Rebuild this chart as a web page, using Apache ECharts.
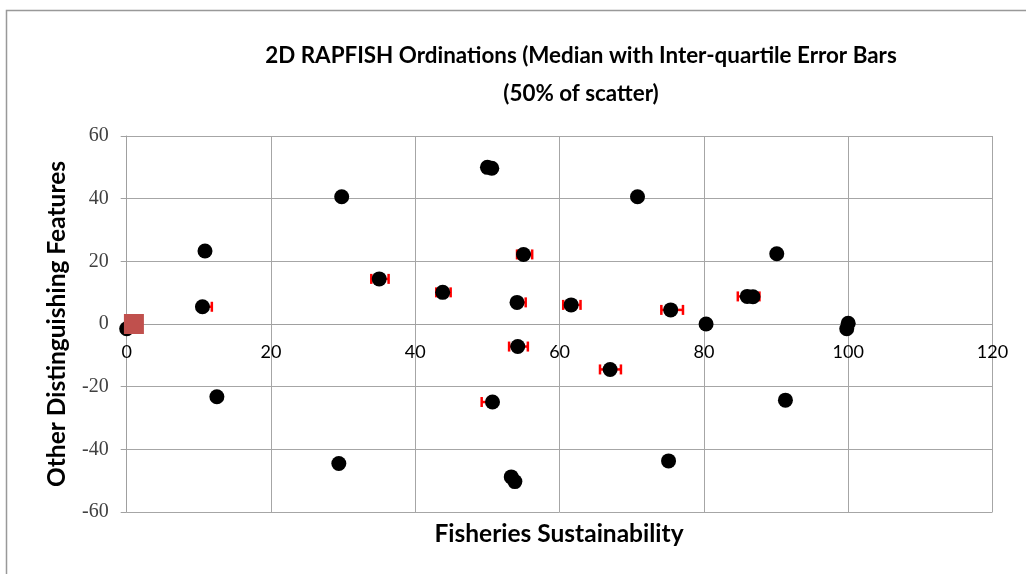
<!DOCTYPE html>
<html><head><meta charset="utf-8">
<script src="https://cdn.jsdelivr.net/npm/echarts@6/dist/echarts.min.js"></script>
<style>html,body{margin:0;padding:0;background:#fff}#c{width:1026px;height:574px}</style>
</head><body><div id="c"></div>
<script>
// Median ordination positions (x: Fisheries Sustainability, y: Other Distinguishing Features)
const ptsX = [0, 10.5, 10.85, 12.5, 29.4, 29.8, 35.0, 43.8, 50.0, 50.6, 50.7, 53.3, 53.8, 54.1, 54.2, 55.0, 61.6, 67.0, 70.8, 75.1, 75.4, 80.3, 86.0, 86.8, 90.1, 91.3, 99.8, 100];
const ptsY = [-1.5, 5.5, 23.3, -23.2, -44.5, 40.6, 14.4, 10.1, 50.0, 49.7, -24.9, -48.8, -50.3, 6.9, -7.2, 22.2, 6.1, -14.5, 40.6, -43.7, 4.5, 0.0, 8.8, 8.7, 22.4, -24.3, -1.5, 0.2];
// Inter-quartile range on the x axis (null = no visible bar)
const errLo = [null, 10.2, null, null, null, null, 33.9, 42.9, null, null, 49.2, null, null, 53.6, 53.0, 54.1, 60.5, 65.6, null, null, 74.1, 79.9, 84.7, null, null, null, null, null];
const errHi = [null, 11.8, null, null, null, null, 36.3, 44.9, null, null, 51.0, null, null, 55.3, 55.6, 56.2, 62.9, 68.5, null, null, 77.1, 80.7, 87.7, null, null, null, null, null];
// Reference point
const refX = [1.0];
const refY = [0];
const xTicks = [0, 20, 40, 60, 80, 100, 120];
const yTicks = [-60, -40, -20, 0, 20, 40, 60];

const points = ptsX.map((x, i) => [x, ptsY[i]]);
const errData = [];
ptsX.forEach((x, i) => { if (errLo[i] != null) errData.push([x, ptsY[i], errLo[i], errHi[i]]); });
const refData = refX.map((x, i) => [x, refY[i]]);

const gridTop = 136, gridBottom = 62, H = 574;
const plotH = H - gridTop - gridBottom;
const yMin = yTicks[0], yMax = yTicks[yTicks.length - 1];
// move the x axis up so that it crosses the y axis at zero (as in the original)
const xAxisOffset = -plotH * (0 - yMin) / (yMax - yMin);

const chart = echarts.init(document.getElementById('c'));
chart.setOption({
  animation: false,
  backgroundColor: '#fff',
  title: {
    text: '2D RAPFISH Ordinations (Median with Inter-quartile Error Bars\n(50% of scatter)',
    left: 576, top: 32, textAlign: 'center',
    textStyle: { fontFamily: 'Lato', fontWeight: 'bold', fontSize: 22.4, color: '#000', lineHeight: 38 }
  },
  graphic: [
    { type: 'rect', shape: { x: 6.5, y: 10.5, width: 1100, height: 700 }, style: { fill: 'none', stroke: '#999', lineWidth: 1.5 }, z: -1 },
    { type: 'text', x: 559, y: 534, style: { text: 'Fisheries Sustainability', fontFamily: 'Lato', fontWeight: 'bold', fontSize: 24.5, fill: '#000', textAlign: 'center', textVerticalAlign: 'middle' } }
  ],
  grid: { left: 126.7, right: 33.5, top: gridTop, bottom: gridBottom },
  xAxis: {
    type: 'value', min: xTicks[0], max: xTicks[xTicks.length - 1], interval: 20,
    position: 'bottom', offset: xAxisOffset,
    axisLine: { onZero: false, lineStyle: { color: '#a0a0a0', width: 1 } },
    axisTick: { show: false },
    axisLabel: { fontFamily: 'Lato', fontSize: 18, color: '#000', margin: 19 },
    splitLine: { show: true, lineStyle: { color: '#a6a6a6', width: 1 } }
  },
  yAxis: {
    type: 'value', min: yMin, max: yMax, interval: 20,
    name: 'Other Distinguishing Features', nameLocation: 'middle', nameGap: 57, nameRotate: 90,
    nameTextStyle: { fontFamily: 'Lato', fontWeight: 'bold', fontSize: 24.5, color: '#000' },
    axisLine: { show: true, onZero: false, lineStyle: { color: '#a0a0a0', width: 1 } },
    axisTick: { show: true, inside: false, length: 6, lineStyle: { color: '#a0a0a0' } },
    axisLabel: { fontFamily: 'Liberation Serif', fontSize: 20, color: '#404040', margin: 18 },
    splitLine: { show: true, lineStyle: { color: '#a6a6a6', width: 1 } }
  },
  series: [
    {
      type: 'custom', z: 2, data: errData,
      renderItem: function (params, api) {
        const y = api.value(1);
        const lo = api.coord([api.value(2), y]);
        const hi = api.coord([api.value(3), y]);
        const h = 5;
        const st = { stroke: '#ff0000', lineWidth: 2.5 };
        return { type: 'group', children: [
          { type: 'line', shape: { x1: lo[0], y1: lo[1], x2: hi[0], y2: hi[1] }, style: st },
          { type: 'line', shape: { x1: lo[0], y1: lo[1] - h, x2: lo[0], y2: lo[1] + h }, style: st },
          { type: 'line', shape: { x1: hi[0], y1: hi[1] - h, x2: hi[0], y2: hi[1] + h }, style: st }
        ] };
      }
    },
    { type: 'scatter', z: 3, data: points, symbol: 'circle', symbolSize: 15, itemStyle: { color: '#000', opacity: 1 } },
    { type: 'scatter', z: 4, data: refData, symbol: 'rect', symbolSize: 20, itemStyle: { color: '#c0504d', opacity: 1 } }
  ]
});
</script></body></html>
